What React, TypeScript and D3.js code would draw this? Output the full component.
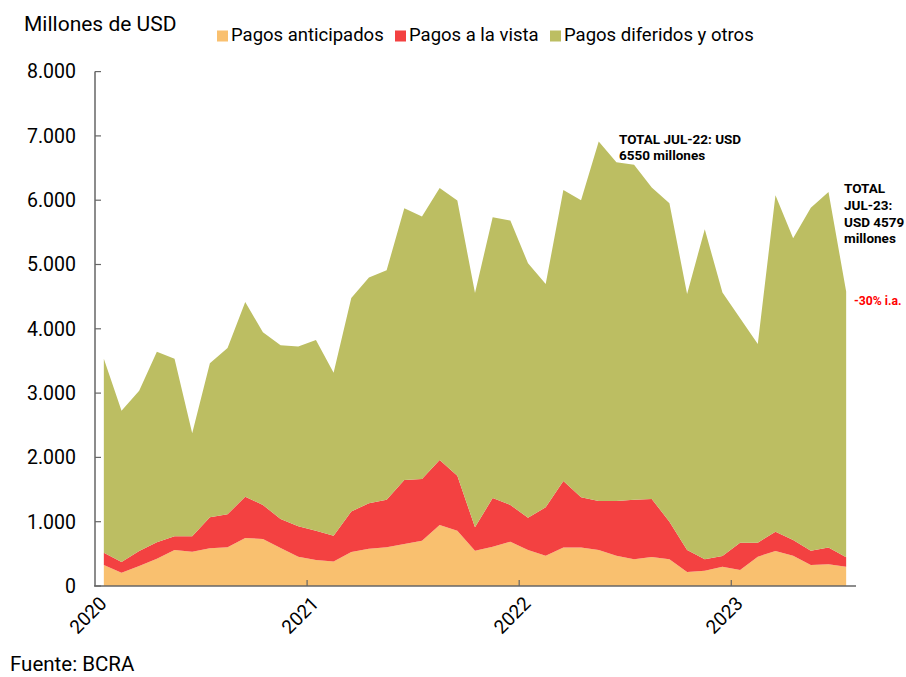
import React from "react";
import * as d3 from "d3";

const months: string[] = (() => {
  const out: string[] = [];
  for (let y = 2020; y <= 2023; y++) {
    for (let m = 1; m <= 12; m++) {
      if (y === 2023 && m > 7) break;
      out.push(`${y}-${String(m).padStart(2, "0")}`);
    }
  }
  return out;
})();

const anticipados = [
  327, 207, 311, 425, 560, 534, 586, 602, 747, 731, 591, 456,
  404, 380, 530, 581, 602, 653, 705, 949, 860, 549, 612, 690,
  560, 472, 597, 597, 560, 472, 415, 451, 415, 218, 239, 301,
  249, 456, 544, 472, 327, 337, 301,
];
const vista = [
  191, 166, 233, 255, 213, 239, 482, 513, 642, 529, 451, 472,
  456, 403, 630, 705, 741, 996, 959, 1011, 856, 364, 757, 570,
  503, 752, 1036, 783, 762, 850, 928, 902, 586, 342, 176, 166,
  425, 218, 301, 244, 222, 260, 145,
];
const diferidos = [
  3018, 2354, 2494, 2965, 2763, 1602, 2396, 2587, 3029, 2686, 2702, 2795,
  2966, 2535, 3320, 3510, 3567, 4226, 4081, 4231, 4278, 3644, 4365, 4423,
  3956, 3473, 4527, 4620, 5589, 5268, 5207, 4843, 4952, 3982, 5133, 4096,
  3490, 3090, 5232, 4692, 5335, 5531, 4133,
];

const seriesNames = ["Pagos anticipados", "Pagos a la vista", "Pagos diferidos y otros"];
const seriesColors = ["#F9C06F", "#F34141", "#BCBE62"];
const yTicks = [0, 1000, 2000, 3000, 4000, 5000, 6000, 7000, 8000];
const yearTicks = ["2020-01", "2021-01", "2022-01", "2023-01"];

const W = 906;
const H = 677;
const FONT = "Roboto, 'Noto Sans', sans-serif";

export default function App() {
  const x = d3.scaleBand<string>().domain(months).range([95, 855]).padding(0);
  const y = d3.scaleLinear().domain([0, 8000]).range([586, 71.6]);

  const table = months.map((m, i) => ({
    m,
    a: anticipados[i],
    v: vista[i],
    d: diferidos[i],
  }));
  const stack = d3.stack<any>().keys(["a", "v", "d"]);
  const layers = stack(table);
  const area = d3
    .area<any>()
    .x((p) => (x(p.data.m) as number) + x.bandwidth() / 2)
    .y0((p) => y(p[0]))
    .y1((p) => y(p[1]));

  const fmt = (v: number) => d3.format(",")(v).replace(/,/g, ".");
  const axisColor = "#666666";

  const legendItems = [
    { x: 217, tx: 231 },
    { x: 395, tx: 409 },
    { x: 550, tx: 564 },
  ];

  return (
    <svg
      width={W}
      height={H}
      style={{ position: "absolute", left: 0, top: 0, background: "#fff" }}
      fontFamily={FONT}
    >
      <text x={24} y={30.5} fontSize={21} fill="#000">Millones de USD</text>

      {legendItems.map((l, i) => (
        <g key={i}>
          <rect x={l.x} y={30.5} width={11} height={11} fill={seriesColors[i]} />
          <text x={l.tx} y={40.7} fontSize={18.5} fill="#000">{seriesNames[i]}</text>
        </g>
      ))}

      {layers.map((layer, i) => (
        <path key={i} d={area(layer as any) as string} fill={seriesColors[i]} />
      ))}

      {/* y axis */}
      <line x1={95} x2={95} y1={y(8000)} y2={y(0)} stroke={axisColor} strokeWidth={1.5} />
      {yTicks.map((t) => (
        <g key={t}>
          <line x1={95} x2={101} y1={y(t)} y2={y(t)} stroke={axisColor} strokeWidth={1.2} />
          <text x={76} y={y(t)} dy="0.35em" textAnchor="end" fontSize={19.5} fill="#000">
            {fmt(t)}
          </text>
        </g>
      ))}

      {/* x axis */}
      <line x1={94} x2={856} y1={y(0)} y2={y(0)} stroke={axisColor} strokeWidth={1.5} />
      {yearTicks.map((m) => {
        const tx = x(m) as number;
        return (
          <g key={m}>
            {m !== "2020-01" && (
              <line x1={tx} x2={tx} y1={y(0)} y2={y(0) - 6} stroke={axisColor} strokeWidth={1.2} />
            )}
            <text
              transform={`translate(${tx + 8},${y(0) + 14}) rotate(-45)`}
              textAnchor="end"
              dy="0.35em"
              fontSize={19}
              fill="#000"
            >
              {m.slice(0, 4)}
            </text>
          </g>
        );
      })}

      {/* annotations */}
      <text x={619} y={144} fontSize={13.5} fontWeight="bold" fill="#000">TOTAL JUL-22: USD</text>
      <text x={619} y={159.5} fontSize={13.5} fontWeight="bold" fill="#000">6550 millones</text>

      <text x={844} y={193} fontSize={13.5} fontWeight="bold" fill="#000">TOTAL</text>
      <text x={844} y={210} fontSize={13.5} fontWeight="bold" fill="#000">JUL-23:</text>
      <text x={844} y={226.5} fontSize={13.5} fontWeight="bold" fill="#000">USD 4579</text>
      <text x={844} y={243} fontSize={13.5} fontWeight="bold" fill="#000">millones</text>

      <text x={854} y={305} fontSize={12.2} fontWeight="bold" fill="#FF0000">-30% i.a.</text>

      <text x={10} y={671} fontSize={20.5} fill="#000">Fuente: BCRA</text>
    </svg>
  );
}
